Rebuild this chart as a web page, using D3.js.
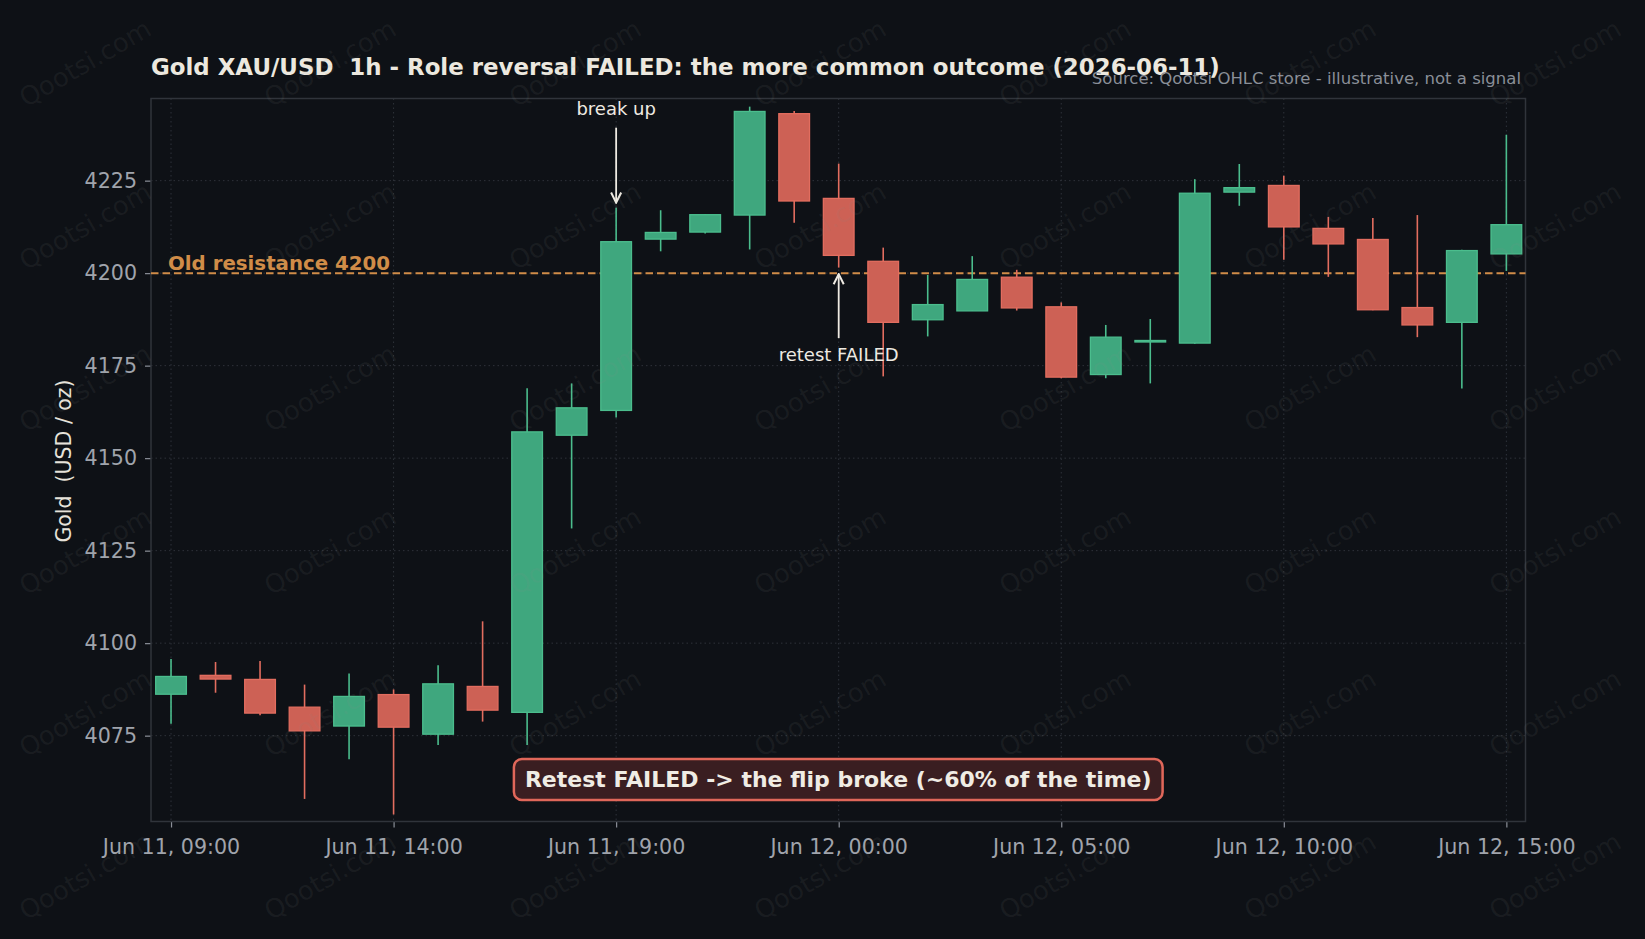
<!DOCTYPE html>
<html>
<head>
<meta charset="utf-8">
<script src="https://cdn.jsdelivr.net/npm/d3@7"></script>
<style>
  html, body { margin: 0; padding: 0; background: #0e1116; }
  svg { display: block; font-family: "DejaVu Sans", sans-serif; }
  text { white-space: pre; }
</style>
</head>
<body>
<script>
// hourly candles, Jun 11 09:00 -> Jun 12 15:00
const times = [
  '2026-06-11T09:00', '2026-06-11T10:00', '2026-06-11T11:00', '2026-06-11T12:00',
  '2026-06-11T13:00', '2026-06-11T14:00', '2026-06-11T15:00', '2026-06-11T16:00',
  '2026-06-11T17:00', '2026-06-11T18:00', '2026-06-11T19:00', '2026-06-11T20:00',
  '2026-06-11T21:00', '2026-06-11T22:00', '2026-06-11T23:00', '2026-06-12T00:00',
  '2026-06-12T01:00', '2026-06-12T02:00', '2026-06-12T03:00', '2026-06-12T04:00',
  '2026-06-12T05:00', '2026-06-12T06:00', '2026-06-12T07:00', '2026-06-12T08:00',
  '2026-06-12T09:00', '2026-06-12T10:00', '2026-06-12T11:00', '2026-06-12T12:00',
  '2026-06-12T13:00', '2026-06-12T14:00', '2026-06-12T15:00',
];
const opens = [
  4086.2, 4091.3, 4090.2, 4082.7, 4077.6, 4086.1, 4075.4, 4088.3, 4081.3, 4156.2,
  4162.9, 4209.2, 4211.1, 4215.7, 4243.1, 4220.2, 4203.2, 4187.4, 4189.8, 4198.9,
  4190.9, 4172.6, 4181.4, 4181.1, 4221.9, 4223.7, 4212.1, 4209.1, 4190.7, 4186.7,
  4205.2,
];
const highs = [
  4095.7, 4094.9, 4095.2, 4088.8, 4091.8, 4087.5, 4094.0, 4105.9, 4168.9, 4170.2,
  4217.7, 4217.0, 4216.0, 4245.0, 4243.8, 4229.6, 4206.9, 4199.5, 4204.6, 4200.9,
  4192.1, 4186.0, 4187.6, 4225.4, 4229.5, 4226.3, 4215.2, 4214.9, 4215.7, 4206.3,
  4237.4,
];
const lows = [
  4078.2, 4086.6, 4080.5, 4057.9, 4068.6, 4053.7, 4072.5, 4078.8, 4072.5, 4131.0,
  4161.0, 4205.9, 4210.7, 4206.4, 4213.6, 4201.5, 4172.1, 4182.9, 4189.8, 4189.9,
  4171.6, 4171.6, 4170.2, 4180.9, 4218.2, 4203.6, 4199.0, 4190.0, 4182.7, 4168.8,
  4200.6,
];
const closes = [
  4091.0, 4090.3, 4081.1, 4076.3, 4085.6, 4077.3, 4089.0, 4081.9, 4157.1, 4163.6,
  4208.5, 4211.0, 4215.8, 4243.7, 4219.5, 4204.8, 4186.7, 4191.5, 4198.3, 4190.6,
  4171.9, 4182.7, 4181.8, 4221.6, 4223.1, 4212.5, 4207.9, 4190.1, 4186.0, 4206.1,
  4213.1,
];
const yTicks = [4075, 4100, 4125, 4150, 4175, 4200, 4225];
const xTickTimes = ['2026-06-11T09:00', '2026-06-11T14:00', '2026-06-11T19:00',
  '2026-06-12T00:00', '2026-06-12T05:00', '2026-06-12T10:00', '2026-06-12T15:00'];
const level = 4200;
const levelLabel = 'Old resistance 4200';
const breakIdx = 10;   // break up candle
const retestIdx = 15;  // retest candle

const W = 1645, H = 939;
const margin = { top: 98.5, right: 119.5, bottom: 117.5, left: 151 };
const width = W - margin.left - margin.right,
  height = H - margin.top - margin.bottom;

const parse = d3.utcParse('%Y-%m-%dT%H:%M');
const HOUR = 3600e3;
const data = times.map((t, i) => ({
  t: parse(t), o: opens[i], h: highs[i], l: lows[i], c: closes[i],
}));

const x = d3.scaleUtc()
  .domain([+data[0].t - 0.45 * HOUR, +data[data.length - 1].t + 0.43 * HOUR])
  .range([0, width]);
const y = d3.scaleLinear()
  .domain([4051.8, 4247.2])
  .range([height, 0]);

const svg = d3.select('body').append('svg')
  .attr('width', W)
  .attr('height', H);

svg.append('rect').attr('width', W).attr('height', H).attr('fill', '#0e1116');

const g = svg.append('g')
  .attr('transform', `translate(${margin.left},${margin.top})`);

// grid
const xt = xTickTimes.map(parse);
g.append('g').selectAll('line')
  .data(xt).enter().append('line')
  .attr('x1', d => x(d)).attr('x2', d => x(d))
  .attr('y1', 0).attr('y2', height)
  .attr('stroke', '#2e323a').attr('stroke-width', 1)
  .attr('stroke-dasharray', '1.5,3');
g.append('g').selectAll('line')
  .data(yTicks).enter().append('line')
  .attr('x1', 0).attr('x2', width)
  .attr('y1', d => y(d)).attr('y2', d => y(d))
  .attr('stroke', '#2e323a').attr('stroke-width', 1)
  .attr('stroke-dasharray', '1.5,3');

// axes
const xAxis = g.append('g')
  .attr('transform', `translate(0,${height})`)
  .call(d3.axisBottom(x).tickValues(xt).tickSize(6).tickPadding(12)
    .tickFormat(d3.utcFormat('%b %d, %H:%M')));
const yAxis = g.append('g')
  .call(d3.axisLeft(y).tickValues(yTicks).tickSize(6).tickPadding(8)
    .tickFormat(d3.format('d')));
[xAxis, yAxis].forEach(a => {
  a.select('.domain').remove();
  a.selectAll('.tick line').attr('stroke', '#8c9099').attr('stroke-width', 1.2);
  a.selectAll('.tick text')
    .attr('fill', '#a0a4ac')
    .style('font-size', '20.6px')
    .style('font-family', '"DejaVu Sans", sans-serif');
});

// plot frame
g.append('rect')
  .attr('width', width).attr('height', height)
  .attr('fill', 'none').attr('stroke', '#30343b').attr('stroke-width', 1.5);

// resistance line
g.append('line')
  .attr('x1', 0).attr('x2', width)
  .attr('y1', y(level)).attr('y2', y(level))
  .attr('stroke', '#d08c48').attr('stroke-width', 2)
  .attr('stroke-dasharray', '7.5,4');
g.append('text')
  .attr('x', 17).attr('y', y(level) - 3)
  .attr('fill', '#d08c48')
  .style('font-size', '19.8px').style('font-weight', 'bold')
  .text(levelLabel);

// candles
const bw = x(+data[0].t + 0.69 * HOUR) - x(data[0].t);
const up = '#3fa77e', upEdge = '#4bbd8d', dn = '#cd6155', dnEdge = '#e26d5f';
const candle = g.append('g').selectAll('g')
  .data(data).enter().append('g');
candle.append('line')
  .attr('x1', d => x(d.t)).attr('x2', d => x(d.t))
  .attr('y1', d => y(d.h)).attr('y2', d => y(d.l))
  .attr('stroke', d => (d.c >= d.o ? upEdge : dnEdge))
  .attr('stroke-width', 1.6);
candle.append('rect')
  .attr('x', d => x(d.t) - bw / 2)
  .attr('width', bw)
  .attr('y', d => y(Math.max(d.o, d.c)))
  .attr('height', d => Math.max(1.5, y(Math.min(d.o, d.c)) - y(Math.max(d.o, d.c))))
  .attr('fill', d => (d.c >= d.o ? up : dn))
  .attr('stroke', d => (d.c >= d.o ? upEdge : dnEdge))
  .attr('stroke-width', 1.3);

// annotations
svg.append('defs').append('marker')
  .attr('id', 'ah').attr('viewBox', '0 0 10 10')
  .attr('refX', 9).attr('refY', 5)
  .attr('markerWidth', 7).attr('markerHeight', 7)
  .attr('orient', 'auto-start-reverse')
  .append('path').attr('d', 'M1,1 L9,5 L1,9')
  .attr('fill', 'none').attr('stroke', '#eeeae2').attr('stroke-width', 1.6);

const bx = x(data[breakIdx].t);
g.append('line')
  .attr('x1', bx).attr('x2', bx)
  .attr('y1', y(data[breakIdx].h) - 80).attr('y2', y(data[breakIdx].h) - 5)
  .attr('stroke', '#eeeae2').attr('stroke-width', 1.8)
  .attr('marker-end', 'url(#ah)');
g.append('text')
  .attr('x', bx).attr('y', y(data[breakIdx].h) - 93)
  .attr('text-anchor', 'middle').attr('fill', '#eeeae2')
  .style('font-size', '18px')
  .text('break up');

const rx = x(data[retestIdx].t);
g.append('line')
  .attr('x1', rx).attr('x2', rx)
  .attr('y1', y(level) + 65).attr('y2', y(level) + 1)
  .attr('stroke', '#eeeae2').attr('stroke-width', 1.8)
  .attr('marker-end', 'url(#ah)');
g.append('text')
  .attr('x', rx).attr('y', y(level) + 88)
  .attr('text-anchor', 'middle').attr('fill', '#eeeae2')
  .style('font-size', '18px')
  .text('retest FAILED');

// bottom callout
const note = g.append('g')
  .attr('transform', `translate(${width / 2},${height - 42})`);
const noteText = note.append('text')
  .attr('text-anchor', 'middle').attr('dy', '0.35em')
  .attr('fill', '#f0ece4')
  .style('font-size', '22px').style('font-weight', 'bold')
  .text('Retest FAILED -> the flip broke (~60% of the time)');
const nb = noteText.node().getBBox();
note.insert('rect', 'text')
  .attr('x', nb.x - 11).attr('y', -20.5)
  .attr('width', nb.width + 22).attr('height', 41)
  .attr('rx', 8)
  .attr('fill', '#3a1e21').attr('stroke', '#e0675a').attr('stroke-width', 2.5);

// titles
svg.append('text')
  .attr('x', 151).attr('y', 75)
  .attr('fill', '#ece8df')
  .style('font-size', '22.9px').style('font-weight', 'bold')
  .text('Gold XAU/USD  1h - Role reversal FAILED: the more common outcome (2026-06-11)');
svg.append('text')
  .attr('x', 1521).attr('y', 84)
  .attr('text-anchor', 'end')
  .attr('fill', '#8a8f98')
  .style('font-size', '16.5px')
  .text('Source: Qootsi OHLC store - illustrative, not a signal');
svg.append('text')
  .attr('transform', `translate(71,${margin.top + height / 2 + 1}) rotate(-90)`)
  .attr('text-anchor', 'middle')
  .attr('fill', '#e6e2da')
  .style('font-size', '20.5px')
  .text('Gold  (USD / oz)');

// watermark
const wmX = [85, 330, 575, 820, 1065, 1310, 1555];
const wmY = [63, 226, 388, 551, 713, 876];
const wm = svg.append('g').attr('pointer-events', 'none');
wmY.forEach(yy => wmX.forEach(xx => {
  wm.append('text')
    .attr('transform', `translate(${xx},${yy}) rotate(-30)`)
    .attr('text-anchor', 'middle').attr('dy', '0.35em')
    .attr('fill', '#8a8a8a').attr('fill-opacity', 0.1)
    .style('font-size', '26px')
    .text('Qootsi.com');
}));
</script>
</body>
</html>
